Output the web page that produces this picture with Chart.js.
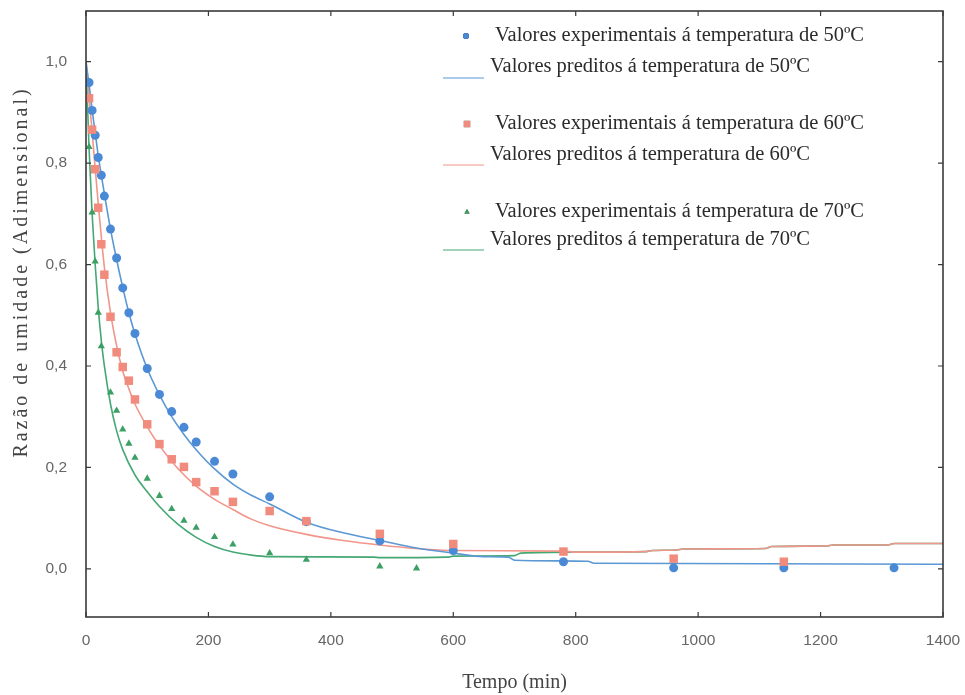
<!DOCTYPE html>
<html lang="pt">
<head>
<meta charset="utf-8">
<title>Razão de umidade</title>
<script src="https://cdn.jsdelivr.net/npm/chart.js@4.4.1/dist/chart.umd.min.js"></script>
<style>
  html, body { margin: 0; padding: 0; background: #fff; }
  #grafico { display: block; }
</style>
</head>
<body>
<canvas id="grafico" width="965" height="695"></canvas>
<script>
// Valores experimentais (tempo em min, razão de umidade)
const tempo50 = [5, 10, 15, 20, 25, 30, 40, 50, 60, 70, 80, 100, 120, 140, 160, 180, 210, 240, 300, 360, 480, 600, 780, 960, 1140, 1320];
const exp50 = [0.959, 0.904, 0.855, 0.811, 0.776, 0.735, 0.67, 0.613, 0.554, 0.505, 0.464, 0.395, 0.344, 0.31, 0.279, 0.25, 0.212, 0.187, 0.142, 0.093, 0.055, 0.036, 0.014, 0.002, 0.002, 0.002];

const tempo60 = [5, 10, 15, 20, 25, 30, 40, 50, 60, 70, 80, 100, 120, 140, 160, 180, 210, 240, 300, 360, 480, 600, 780, 960, 1140];
const exp60 = [0.928, 0.866, 0.788, 0.712, 0.64, 0.58, 0.497, 0.427, 0.398, 0.371, 0.334, 0.285, 0.246, 0.216, 0.201, 0.171, 0.153, 0.132, 0.114, 0.094, 0.069, 0.049, 0.034, 0.02, 0.014];

const tempo70 = [5, 10, 15, 20, 25, 40, 50, 60, 70, 80, 100, 120, 140, 160, 180, 210, 240, 300, 360, 480, 540];
const exp70 = [0.832, 0.703, 0.606, 0.505, 0.439, 0.348, 0.312, 0.275, 0.247, 0.219, 0.178, 0.144, 0.118, 0.095, 0.081, 0.063, 0.048, 0.031, 0.018, 0.005, 0.001];

// Valores preditos pelo modelo
const tempoPred50 = [0, 5, 10, 15, 20, 30, 40, 50, 60, 70, 80, 100, 120, 140, 160, 180, 210, 240, 270, 300, 360, 420, 480, 540, 600, 650, 690, 700, 820, 830, 1400];
const pred50 = [1.0, 0.955, 0.905, 0.86, 0.815, 0.74, 0.67, 0.61, 0.555, 0.505, 0.463, 0.395, 0.343, 0.3, 0.265, 0.235, 0.197, 0.167, 0.145, 0.128, 0.092, 0.071, 0.056, 0.041, 0.031, 0.024, 0.023, 0.017, 0.015, 0.011, 0.009];

const tempoPred60 = [0, 5, 10, 15, 20, 25, 30, 40, 50, 60, 70, 80, 100, 120, 150, 180, 210, 240, 270, 300, 360, 420, 480, 540, 600, 780, 800, 915, 925, 965, 975, 1110, 1120, 1210, 1220, 1310, 1320, 1400];
const pred60 = [1.0, 0.93, 0.862, 0.79, 0.72, 0.655, 0.595, 0.505, 0.44, 0.39, 0.355, 0.325, 0.28, 0.243, 0.198, 0.163, 0.137, 0.117, 0.098, 0.085, 0.068, 0.056, 0.047, 0.04, 0.036, 0.035, 0.033, 0.034, 0.036, 0.037, 0.039, 0.04, 0.044, 0.045, 0.047, 0.047, 0.05, 0.05];

const tempoPred70 = [0, 5, 10, 15, 20, 25, 30, 40, 50, 60, 80, 100, 120, 150, 180, 210, 240, 270, 300, 470, 480, 590, 600, 700, 710, 800, 915, 925, 965, 975, 1110, 1120, 1210, 1220, 1310, 1320, 1400];
const pred70 = [1.0, 0.83, 0.7, 0.6, 0.515, 0.45, 0.4, 0.325, 0.272, 0.235, 0.185, 0.152, 0.123, 0.088, 0.062, 0.044, 0.033, 0.027, 0.024, 0.023, 0.022, 0.023, 0.025, 0.026, 0.031, 0.033, 0.034, 0.036, 0.037, 0.039, 0.04, 0.044, 0.045, 0.047, 0.047, 0.05, 0.05];

// Marcas dos eixos
const xTicks = [0, 200, 400, 600, 800, 1000, 1200, 1400];
const yTicks = [0, 0.2, 0.4, 0.6, 0.8, 1.0];

const cores = {
  azul: "#4a89d6",
  azulLinha: "#5b98d4",
  vermelho: "#f08b7d",
  vermelhoLinha: "#f1968a",
  verde: "#3c9f64",
  verdeLinha: "#45a874",
};

const pares = (xs, ys) => xs.map((t, i) => ({ x: t, y: ys[i] }));

function serieExp(label, xs, ys, cor, estilo, raio, ordem) {
  return {
    label: label,
    data: pares(xs, ys),
    showLine: false,
    pointStyle: estilo,
    pointRadius: raio,
    backgroundColor: cor,
    borderColor: cor,
    borderWidth: 0,
    order: ordem,
  };
}

function seriePred(label, xs, ys, cor) {
  return {
    label: label,
    data: pares(xs, ys),
    showLine: true,
    pointRadius: 0,
    borderColor: cor,
    borderWidth: 1.6,
    cubicInterpolationMode: "monotone",
    order: 5,
  };
}

// Legenda desenhada à mão (com espaço entre os grupos de temperatura)
const legendaPos = [
  { marcaX: 466, y: 36, textoX: 495 },
  { linhaX: [443, 484], linhaY: 78, y: 67, textoX: 490 },
  { marcaX: 467, y: 124, textoX: 495 },
  { linhaX: [443, 484], linhaY: 165, y: 155, textoX: 490 },
  { marcaX: 467, y: 212, textoX: 495 },
  { linhaX: [443, 484], linhaY: 250, y: 240, textoX: 490 },
];

const legenda = {
  id: "legenda",
  afterDraw(chart) {
    const ctx = chart.ctx;
    ctx.save();
    chart.data.datasets.forEach((ds, i) => {
      const p = legendaPos[i];
      if (p.marcaX) {
        Chart.helpers.drawPoint(ctx, {
          pointStyle: ds.pointStyle,
          radius: ds.pointStyle === "rect" ? 4.5 : 3,
          rotation: 0,
          borderWidth: 0,
        }, p.marcaX, p.y);
        ctx.fillStyle = ds.backgroundColor;
        ctx.fill();
      } else {
        ctx.strokeStyle = ds.borderColor;
        ctx.lineWidth = 1.2;
        ctx.beginPath();
        ctx.moveTo(p.linhaX[0], p.linhaY);
        ctx.lineTo(p.linhaX[1], p.linhaY);
        ctx.stroke();
      }
      ctx.fillStyle = "#2b2b2b";
      ctx.font = "20.5px 'Liberation Serif', 'Times New Roman', serif";
      ctx.textAlign = "left";
      ctx.textBaseline = "middle";
      ctx.fillText(ds.label, p.textoX, p.y);
    });
    ctx.restore();
  },
};

// Moldura, marcas internas nos quatro lados e título do eixo y
const moldura = {
  id: "moldura",
  afterDatasetsDraw(chart) {
    const { ctx, chartArea: a, scales } = chart;
    const tam = 5;
    ctx.save();
    ctx.strokeStyle = "#3a3a3a";
    ctx.lineWidth = 1.2;
    ctx.beginPath();
    xTicks.forEach((v) => {
      const px = scales.x.getPixelForValue(v);
      ctx.moveTo(px, a.bottom);
      ctx.lineTo(px, a.bottom - tam);
      ctx.moveTo(px, a.top);
      ctx.lineTo(px, a.top + tam);
    });
    yTicks.forEach((v) => {
      const py = scales.y.getPixelForValue(v);
      ctx.moveTo(a.left, py);
      ctx.lineTo(a.left + tam, py);
      ctx.moveTo(a.right, py);
      ctx.lineTo(a.right - tam, py);
    });
    ctx.stroke();
    ctx.lineWidth = 1.6;
    ctx.strokeRect(a.left, a.top, a.right - a.left, a.bottom - a.top);

    ctx.translate(22, 272);
    ctx.rotate(-Math.PI / 2);
    ctx.fillStyle = "#444";
    ctx.font = "20px 'Liberation Serif', 'Times New Roman', serif";
    ctx.letterSpacing = "3px";
    ctx.textAlign = "center";
    ctx.textBaseline = "middle";
    ctx.fillText("Razão de umidade (Adimensional)", 0, 0);
    ctx.restore();
  },
};

new Chart(document.getElementById("grafico"), {
  type: "scatter",
  data: {
    datasets: [
      serieExp("Valores experimentais á temperatura de 50ºC", tempo50, exp50, cores.azul, "circle", 4.5, 2),
      seriePred("Valores preditos á temperatura de 50ºC", tempoPred50, pred50, cores.azulLinha),
      serieExp("Valores experimentais á temperatura de 60ºC", tempo60, exp60, cores.vermelho, "rect", 6, 0),
      seriePred("Valores preditos á temperatura de 60ºC", tempoPred60, pred60, cores.vermelhoLinha),
      serieExp("Valores experimentais á temperatura de 70ºC", tempo70, exp70, cores.verde, "triangle", 4.2, 1),
      seriePred("Valores preditos á temperatura de 70ºC", tempoPred70, pred70, cores.verdeLinha),
    ],
  },
  options: {
    responsive: false,
    devicePixelRatio: 1,
    animation: false,
    layout: { padding: { top: 11, right: 22, left: 0, bottom: 0 } },
    plugins: {
      legend: { display: false },
      tooltip: { enabled: false },
    },
    scales: {
      x: {
        type: "linear",
        min: 0,
        max: 1400,
        afterBuildTicks: (s) => { s.ticks = xTicks.map((v) => ({ value: v })); },
        afterFit: (s) => {
          s.height = 78;
          s.paddingLeft = 0;
          s.paddingRight = 0;
        },
        grid: { display: false, drawTicks: false },
        border: { display: false },
        ticks: {
          padding: 14,
          color: "#666",
          font: { family: "'Liberation Sans', Arial, sans-serif", size: 15.5 },
          callback: (v) => String(v),
        },
        title: {
          display: true,
          text: "Tempo (min)",
          color: "#444",
          padding: 0,
          font: { family: "'Liberation Serif', 'Times New Roman', serif", size: 20 },
        },
      },
      y: {
        type: "linear",
        min: -0.095,
        max: 1.1,
        afterBuildTicks: (s) => { s.ticks = yTicks.map((v) => ({ value: v })); },
        afterFit: (s) => {
          s.width = 86;
          s.paddingTop = 0;
          s.paddingBottom = 0;
        },
        grid: { display: false, drawTicks: false },
        border: { display: false },
        ticks: {
          padding: 19,
          color: "#666",
          font: { family: "'Liberation Sans', Arial, sans-serif", size: 15.5 },
          callback: (v) => v.toFixed(1).replace(".", ","),
        },
      },
    },
  },
  plugins: [moldura, legenda],
});
</script>
</body>
</html>
